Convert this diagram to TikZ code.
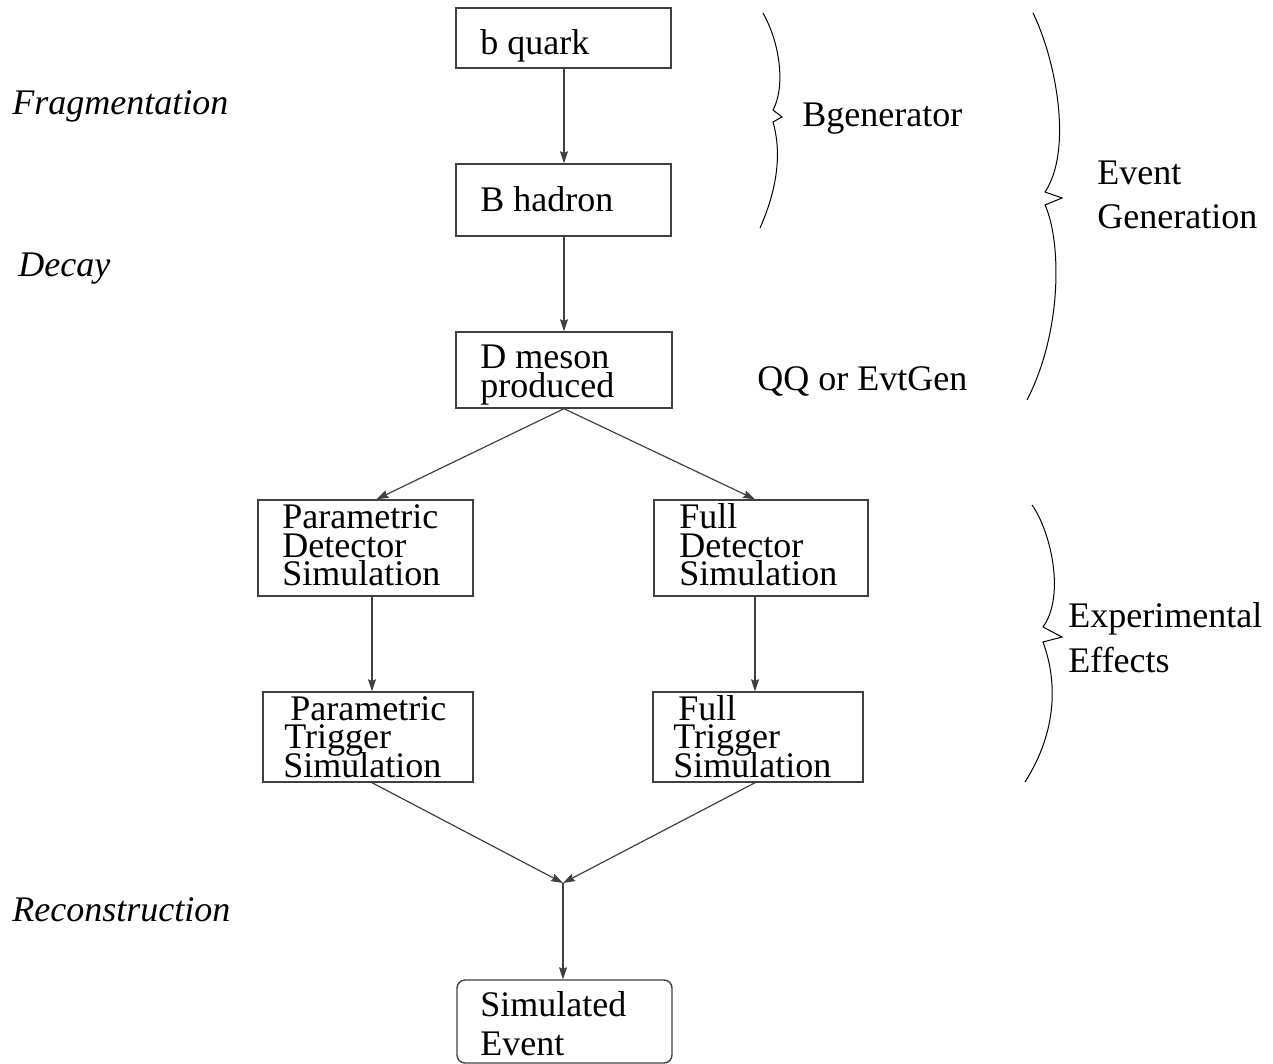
\documentclass[tikz,border=0pt]{standalone}
\usepackage{fontspec}
\setmainfont{Liberation Serif}
\usetikzlibrary{arrows.meta,calc}

\tikzset{
  box/.style={draw=black!75, line width=0.7pt, inner sep=0pt},
  roundbox/.style={box, rounded corners=4pt},
  txt/.style={anchor=base west, inner sep=0pt, font=\fontsize{18}{18}\selectfont},
  itxt/.style={txt, font=\fontsize{18}{18}\selectfont\itshape},
  flow/.style={draw=black!75, line width=0.6pt, -{Stealth[length=6pt,width=4pt,inset=0.8pt]}},
  brace/.style={draw=black, line width=0.5pt, line join=miter}
}

\begin{document}
\begin{tikzpicture}[x=0.5pt, y=-0.5pt]
  \useasboundingbox (0,0) rectangle (1273,1064);

  % boxes
  \node[box, minimum width=107.5pt, minimum height=30pt] (bq) at (563.5,38) {};
  \node[box, minimum width=107.5pt, minimum height=36pt] (bh) at (563.5,200) {};
  \node[box, minimum width=108pt, minimum height=38pt] (dm) at (564,370) {};
  \node[box, minimum width=107.5pt, minimum height=48pt] (pd) at (365.5,548) {};
  \node[box, minimum width=107pt, minimum height=48pt] (fd) at (761,548) {};
  \node[box, minimum width=105pt, minimum height=45pt] (pt) at (368,737) {};
  \node[box, minimum width=105pt, minimum height=45pt] (ft) at (758,737) {};
  \node[roundbox, minimum width=107.5pt, minimum height=41.5pt] (se) at (564.5,1021.5) {};

  % box texts
  \node[txt] (bqA) at (480,55) {b quark};
  \node[txt] (bhA) at (480,212) {B hadron};
  \node[txt] (dmA) at (480,368) {D meson};
  \node[txt] (dmB) at (480,397) {produced};
  \node[txt] (pdA) at (282,528) {Parametric};
  \node[txt] (pdB) at (282,557) {Detector};
  \node[txt] (pdC) at (282,585) {Simulation};
  \node[txt] (fdA) at (679,528) {Full};
  \node[txt] (fdB) at (679,557) {Detector};
  \node[txt] (fdC) at (679,585) {Simulation};
  \node[txt] (ptA) at (290,720) {Parametric};
  \node[txt] (ptB) at (284,748) {Trigger};
  \node[txt] (ptC) at (283,777) {Simulation};
  \node[txt] (ftA) at (678,720) {Full};
  \node[txt] (ftB) at (673,748) {Trigger};
  \node[txt] (ftC) at (673,777) {Simulation};
  \node[txt] (seA) at (480,1016) {Simulated};
  \node[txt] (seB) at (480,1055) {Event};

  % stage labels on the left
  \node[itxt] (frag) at (12,115) {Fragmentation};
  \node[itxt] (dec) at (18,277) {Decay};
  \node[itxt] (reco) at (12,921) {Reconstruction};

  % labels on the right
  \node[txt] (bgen) at (802,127) {Bgenerator};
  \node[txt] (qq) at (757,390) {QQ or EvtGen};
  \node[txt] (evA) at (1097,185) {Event};
  \node[txt] (evB) at (1097,228) {Generation};
  \node[txt] (exA) at (1068,627) {Experimental};
  \node[txt] (exB) at (1068,672) {Effects};

  % merge point of the two simulation chains
  \coordinate (m) at (563,883);

  % connectors
  \draw[flow] ($(bq.south)+(0.5,0)$) -- ($(bh.north)+(0.5,0)$);
  \draw[flow] ($(bh.south)+(0.5,0)$) -- ($(dm.north)+(0,0)$);
  \draw[flow] (dm.south) -- ($(pd.north)+(11,0)$);
  \draw[flow] (dm.south) -- ($(fd.north)+(-6,0)$);
  \draw[flow] ($(pd.south)+(6.5,0)$) -- ($(pt.north)+(4,0)$);
  \draw[flow] ($(fd.south)+(-6,0)$) -- ($(ft.north)+(-3,0)$);
  \draw[flow] ($(pt.south)+(4,0)$) -- (m);
  \draw[flow] ($(ft.south)+(-3,0)$) -- (m);
  \draw[flow] (m) -- ($(se.north)+(-1.5,0)$);

  % braces
  \draw[brace] (763,13) .. controls (781,45) and (785,88) .. (773,110)
    -- (782,117) -- (773,122)
    .. controls (781,150) and (779,185) .. (760,228);
  \draw[brace] (1033,13) .. controls (1056,60) and (1073,150) .. (1045,192)
    -- (1062,198) -- (1045,205)
    .. controls (1061,240) and (1063,330) .. (1027,400);
  \draw[brace] (1032,505) .. controls (1050,530) and (1066,595) .. (1043,627)
    -- (1062,637) -- (1043,642)
    .. controls (1057,680) and (1058,730) .. (1025,782);
\end{tikzpicture}
\end{document}
